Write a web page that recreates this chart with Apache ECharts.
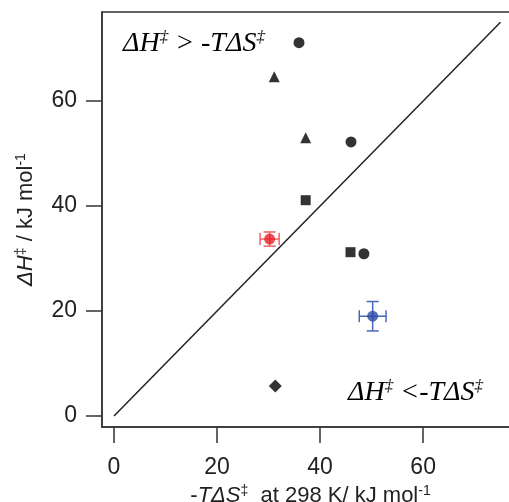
<!DOCTYPE html>
<html>
<head>
<meta charset="utf-8">
<script src="https://cdn.jsdelivr.net/npm/echarts@6/dist/echarts.min.js"></script>
<style>
html,body{margin:0;padding:0;background:#fff;}
#chart{width:509px;height:502px;}
</style>
</head>
<body>
<div id="chart"></div>
<script>
// ---- data ----
const circleData   = [[35.9, 71.1], [46.0, 52.2], [48.5, 30.9]];
const triangleData = [[31.1, 64.6], [37.2, 53.0]];
const squareData   = [[37.2, 41.1], [45.9, 31.2]];
const diamondData  = [[31.3, 5.7]];
// [x, y, xErr, yErr]
const redPoint  = [[30.2, 33.7, 1.85, 1.35]];
const bluePoint = [[50.2, 19.0, 2.6, 2.8]];
const diagonal  = [[0, 0], [75, 75]];
const xTicks = [0, 20, 40, 60];
const yTicks = [0, 20, 40, 60];

const AX = '#333';
const sans = 'Liberation Sans';
const serif = 'Liberation Serif';

function errRender(color) {
  return function (params, api) {
    const x = api.value(0), y = api.value(1), ex = api.value(2), ey = api.value(3);
    const l = api.coord([x - ex, y]), r = api.coord([x + ex, y]);
    const t = api.coord([x, y + ey]), b = api.coord([x, y - ey]);
    const c = 6;
    const st = { stroke: color, lineWidth: 1.5 };
    return {
      type: 'group',
      children: [
        { type: 'line', shape: { x1: l[0], y1: l[1], x2: r[0], y2: r[1] }, style: st },
        { type: 'line', shape: { x1: t[0], y1: t[1], x2: b[0], y2: b[1] }, style: st },
        { type: 'line', shape: { x1: l[0], y1: l[1] - c, x2: l[0], y2: l[1] + c }, style: st },
        { type: 'line', shape: { x1: r[0], y1: r[1] - c, x2: r[0], y2: r[1] + c }, style: st },
        { type: 'line', shape: { x1: t[0] - c, y1: t[1], x2: t[0] + c, y2: t[1] }, style: st },
        { type: 'line', shape: { x1: b[0] - c, y1: b[1], x2: b[0] + c, y2: b[1] }, style: st }
      ]
    };
  };
}

const nameRich = {
  n: { fontFamily: sans, fontSize: 22, color: '#222', lineHeight: 24 },
  i: { fontFamily: sans, fontSize: 22, fontStyle: 'italic', color: '#222', lineHeight: 24 },
  s: { fontFamily: sans, fontSize: 14, color: '#222', verticalAlign: 'top', lineHeight: 13 }
};
const annRich = {
  i: { fontFamily: serif, fontSize: 28, fontStyle: 'italic', color: '#222', lineHeight: 30 },
  s: { fontFamily: serif, fontSize: 17, fontStyle: 'italic', color: '#222', verticalAlign: 'top', lineHeight: 17 }
};

const chart = echarts.init(document.getElementById('chart'), null, { renderer: 'canvas' });
chart.setOption({
  animation: false,
  backgroundColor: '#fff',
  grid: {
    left: 102, top: 12, right: -10, bottom: 75,
    outerBoundsMode: 'none', containLabel: false,
    show: true, borderColor: AX, borderWidth: 1.5, backgroundColor: 'transparent'
  },
  xAxis: {
    type: 'value', min: -2.33, max: 78.6,
    splitLine: { show: false },
    axisLine: { show: true, onZero: false, lineStyle: { color: AX, width: 1.5 } },
    axisTick: { show: true, customValues: xTicks, length: 16, lineStyle: { color: AX, width: 1.5 } },
    axisLabel: { customValues: xTicks, fontFamily: sans, fontSize: 23, color: '#222', margin: 29 },
    name: '{n|-}{i|TΔS}{s|‡}{n|  at 298 K/ kJ mol}{s|-1}',
    nameLocation: 'middle', nameGap: 47,
    nameTextStyle: { rich: nameRich }
  },
  yAxis: {
    type: 'value', min: -2.1, max: 76.95,
    splitLine: { show: false },
    axisLine: { show: true, onZero: false, lineStyle: { color: AX, width: 1.5 } },
    axisTick: { show: true, customValues: yTicks, length: 16, lineStyle: { color: AX, width: 1.5 } },
    axisLabel: { customValues: yTicks, fontFamily: sans, fontSize: 23, color: '#222', margin: 25 },
    name: '{i|ΔH}{s|‡}{n| / kJ mol}{s|-1}',
    nameLocation: 'middle', nameGap: 64, nameRotate: 90,
    nameTextStyle: { rich: nameRich }
  },
  graphic: [
    {
      type: 'text', left: 123, top: 29, silent: true,
      style: { text: '{i|ΔH}{s|‡}{i| > -TΔS}{s|‡}', rich: annRich }
    },
    {
      type: 'text', right: 26, top: 378, silent: true,
      style: { text: '{i|ΔH}{s|‡}{i| <-TΔS}{s|‡}', rich: annRich }
    }
  ],
  series: [
    {
      type: 'line', data: diagonal, symbol: 'none',
      lineStyle: { color: '#222', width: 1.5 }, silent: true
    },
    { type: 'scatter', data: circleData, symbol: 'circle', symbolSize: 11, itemStyle: { color: '#000' } },
    { type: 'scatter', data: triangleData, symbol: 'triangle', symbolSize: 11, itemStyle: { color: '#000' } },
    { type: 'scatter', data: squareData, symbol: 'rect', symbolSize: 10, itemStyle: { color: '#000' } },
    { type: 'scatter', data: diamondData, symbol: 'diamond', symbolSize: 13, itemStyle: { color: '#000' } },
    { type: 'custom', data: redPoint, renderItem: errRender('#f0615b'), silent: true, z: 3 },
    { type: 'custom', data: bluePoint, renderItem: errRender('#4a67bd'), silent: true, z: 3 },
    { type: 'scatter', data: redPoint, symbol: 'circle', symbolSize: 11, itemStyle: { color: '#e8202a' }, z: 4 },
    { type: 'scatter', data: bluePoint, symbol: 'circle', symbolSize: 11, itemStyle: { color: '#2a4ba6' }, z: 4 }
  ]
});
</script>
</body>
</html>
